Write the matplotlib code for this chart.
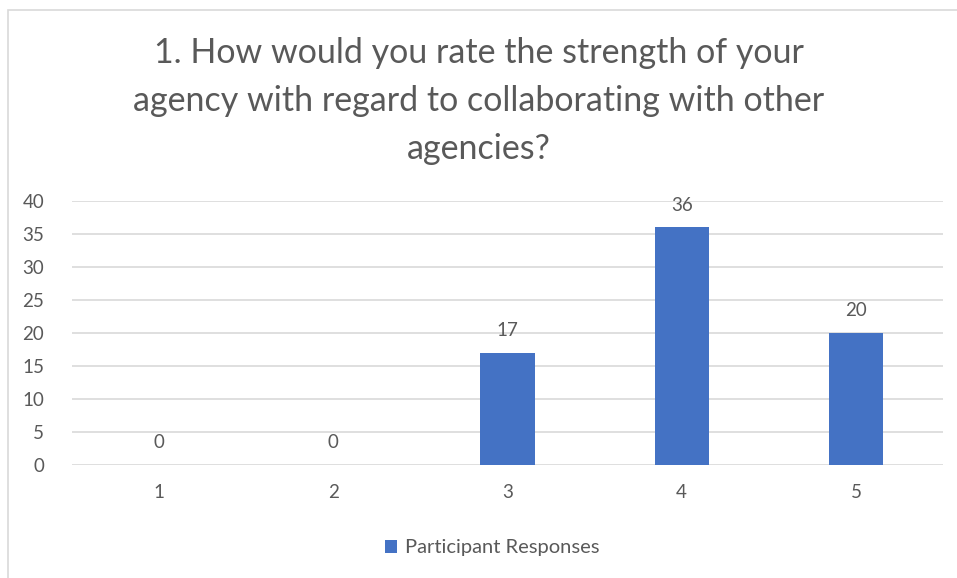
import matplotlib.pyplot as plt
from matplotlib.patches import Rectangle

# Data
categories = ["1", "2", "3", "4", "5"]
responses = [0, 0, 17, 36, 20]
y_ticks = [0, 5, 10, 15, 20, 25, 30, 35, 40]

title = "1. How would you rate the strength of your\nagency with regard to collaborating with other\nagencies?"

plt.rcParams["font.family"] = ["Lato", "DejaVu Sans"]
text_color = "#595959"
bar_color = "#4472C4"

fig = plt.figure(figsize=(9.57, 5.78), dpi=100)

# chart border (cropped at right/bottom like the screenshot)
fig.patches.append(Rectangle((8 / 957, -0.1), 1.2, 1 - 10 / 578 + 0.1,
                             transform=fig.transFigure, fill=False,
                             edgecolor="#d9d9d9", linewidth=1.2))

ax = fig.add_axes([72 / 957, 1 - 465 / 578, (943 - 72) / 957, (465 - 201) / 578])
x = range(len(categories))
bars = ax.bar(x, responses, width=0.31, color=bar_color, zorder=3,
              label="Participant Responses")

for xi, v in zip(x, responses):
    ax.annotate(str(v), (xi, v), xytext=(0, 10), textcoords="offset points",
                ha="center", va="bottom", fontsize=13.5, color=text_color)

ax.set_xlim(-0.5, len(categories) - 0.5)
ax.set_ylim(0, 40)
ax.set_yticks(y_ticks)
ax.set_xticks(list(x))
ax.set_xticklabels(categories)
ax.grid(axis="y", color="#d9d9d9", linewidth=1.2, zorder=0)
ax.tick_params(length=0, labelsize=13.5, labelcolor=text_color)
ax.tick_params(axis="y", pad=20)
ax.tick_params(axis="x", pad=14)
for s in ax.spines.values():
    s.set_visible(False)

fig.text(0.5, 1 - 101 / 578, title, ha="center", va="center",
         fontsize=24.5, color=text_color, linespacing=1.62)

ax.legend(loc="center", bbox_to_anchor=(492 / 957, 1 - 548 / 578),
          bbox_transform=fig.transFigure, frameon=False, fontsize=14.5,
          labelcolor=text_color, handlelength=0.6, handleheight=0.6,
          handletextpad=0.4)

fig.savefig("out.png", dpi=100, facecolor="white")
